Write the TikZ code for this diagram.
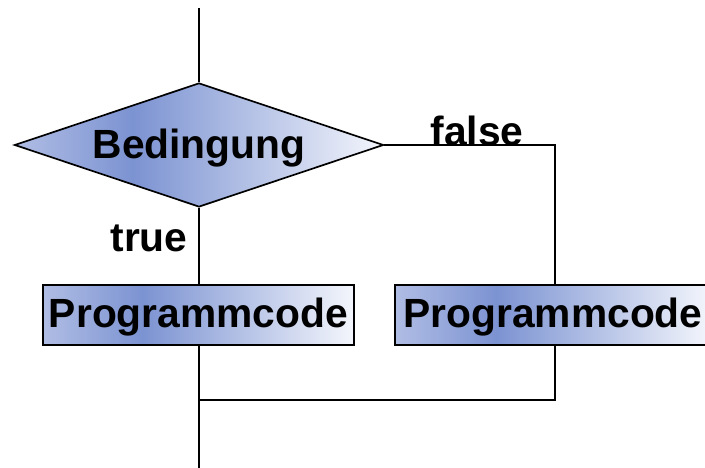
\documentclass[tikz,border=0pt]{standalone}
\usepackage{fontspec}
\setmainfont{Liberation Sans}
\usetikzlibrary{shapes.geometric}

\definecolor{shadeL}{RGB}{176,189,228}
\definecolor{shadeD}{RGB}{124,147,210}
\definecolor{shadeR}{RGB}{244,246,252}
\pgfdeclarehorizontalshading{blockshade}{100bp}{color(0bp)=(shadeL); color(25bp)=(shadeL);
  color(41bp)=(shadeD); color(75bp)=(shadeR); color(100bp)=(shadeR)}

\tikzset{
  line/.style={line width=1.2pt},
  decision/.style={diamond, draw, line, shading=blockshade, aspect=2.976,
    minimum width=9.225cm, minimum height=3.1cm, inner sep=0pt,
    text height=0.88cm, text depth=0.21cm},
  block/.style={rectangle, draw, line, shading=blockshade,
    minimum width=7.775cm, minimum height=1.5cm, inner sep=0pt,
    text height=0.86cm, text depth=0.21cm},
  label/.style={inner sep=0pt}
}

\begin{document}
\begin{tikzpicture}[font=\fontsize{29}{35}\selectfont\bfseries]
    \useasboundingbox (0, 0) rectangle (17.625, 11.7);

    \coordinate (start) at (4.975, 11.5);
    \coordinate (merge) at (4.975, 1.7);
    \coordinate (stop) at (4.975, 0);

    \node[decision] (cond) at (4.975, 8.075) {Bedingung};
    \node[block] (codeT) at (4.9625, 3.825) {Programmcode};
    \node[block, minimum width=7.9cm] (codeF) at (13.825, 3.825) {Programmcode};

    \node[label] (lblF) at (11.925, 8.43) {false};
    \node[label] (lblT) at (3.725, 5.75) {true};

    \draw[line] (start) -- (cond.north);
    \draw[line] (cond.east) -| (codeF.north -| 13.875, 0);
    \draw[line] (cond.south) -- (cond.south |- codeT.north);
    \draw[line] (codeT.south -| stop) -- (stop);
    \draw[line] (codeF.south -| 13.875, 0) |- (merge);
\end{tikzpicture}
\end{document}
